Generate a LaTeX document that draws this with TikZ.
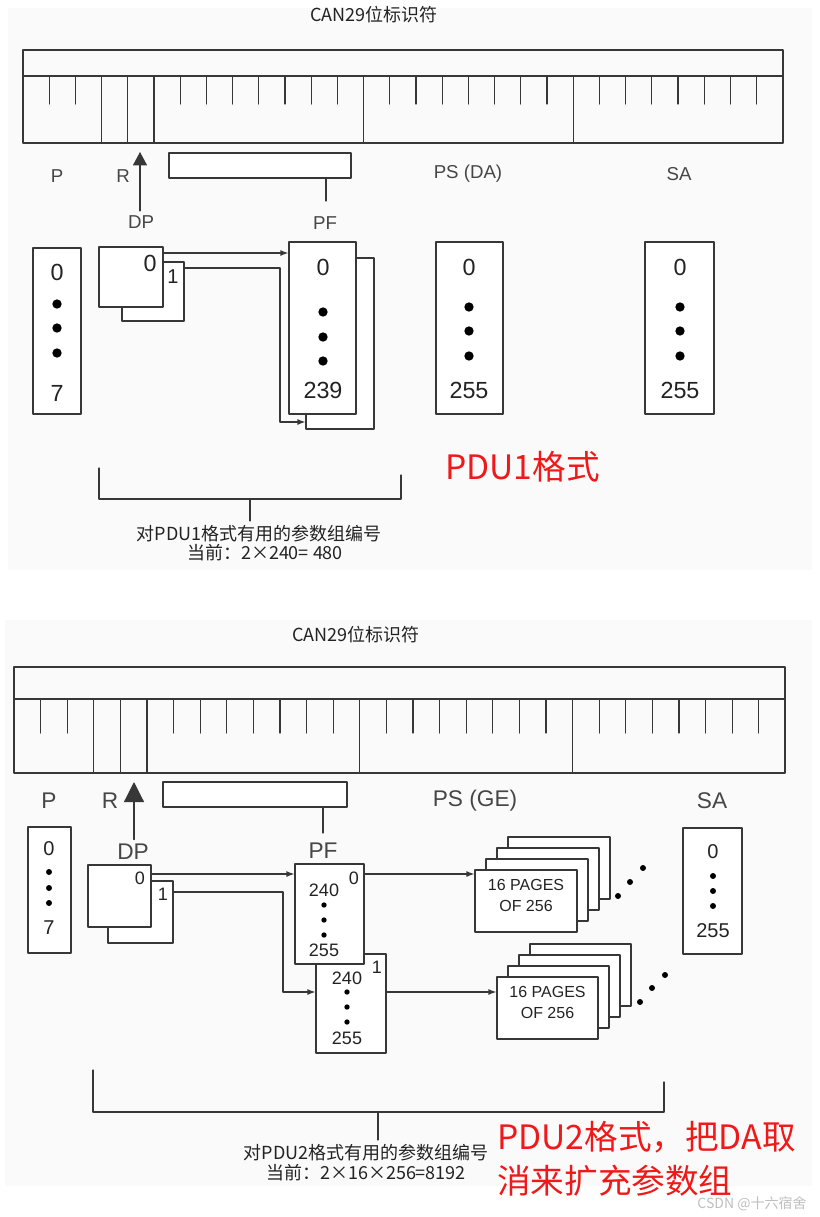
\documentclass[tikz,border=0pt]{standalone}
\usepackage{fontspec}
\setmainfont{Liberation Sans}
\newfontfamily\cjk{Noto Sans CJK SC}
\usetikzlibrary{arrows.meta,fit}
\definecolor{linegray}{RGB}{55,55,55}
\definecolor{labgray}{RGB}{70,70,70}
\definecolor{numgray}{RGB}{35,35,35}
\definecolor{pdured}{RGB}{240,25,25}
\definecolor{panelbg}{RGB}{250,250,250}
\definecolor{markgray}{RGB}{190,190,190}
\tikzset{
    redlab/.style={
        text=pdured, inner sep=0pt, font=\cjk\fontsize{25.2}{33}\selectfont
    }
}

\begin{document}
\begin{tikzpicture}[x=0.75pt,y=-0.75pt, line cap=round, line join=round]

\tikzset{
  main/.style={draw=linegray, line width=0.9pt},
  reg/.style={draw=linegray, line width=0.8pt},
  box/.style={draw=linegray, line width=0.9pt, fill=white, inner sep=0pt},
  arr/.style={main, -{Latex[length=6pt,width=4.5pt]}},
  lab/.style={text=labgray, font=\fontsize{14}{16}\selectfont},
  labb/.style={text=labgray, font=\fontsize{17}{19}\selectfont},
  num/.style={text=numgray, inner sep=0pt, font=\fontsize{17.5}{19}\selectfont},
  numb/.style={text=numgray, inner sep=0pt, font=\fontsize{15}{17}\selectfont},
  nums/.style={text=numgray, inner sep=0pt, font=\fontsize{13.5}{15}\selectfont},
  bigdot/.style={circle, fill=black, inner sep=0pt, minimum size=7pt},
  smalldot/.style={circle, fill=black, inner sep=0pt, minimum size=4pt},
  title/.style={text=numgray, font=\cjk\fontsize{13.5}{16}\selectfont},
  note/.style={text=numgray, font=\cjk\fontsize{13.5}{15}\selectfont},
  pages/.style={box, align=center, text=numgray, font=\fontsize{12}{15.75}\selectfont},
}

\useasboundingbox (0,0) rectangle (819,1217);

% panels
\fill[panelbg] (8,8) rectangle (812,570);
\fill[panelbg] (5,620) rectangle (812,1186);

%%%%%%%% PDU1 %%%%%%%%
\node[title] (tit1) at (374,15) {CAN29位标识符};

% 29 bit register
\draw[reg] (23,50) rectangle (783,143);
\draw[reg] (23,76) -- (783,76);
\foreach \i in {3,4,5,13,21}
  \draw[reg] ({23+26.2*\i},76) -- ({23+26.2*\i},143);
\foreach \i in {1,2,6,7,...,12,14,15,...,20,22,23,...,28}
  \draw[reg] ({23+26.2*\i},76) -- ({23+26.2*\i},104);

% field labels
\node[lab] (p1) at (57,176) {P};
\node[lab] (r1) at (123,176) {R};
\node[lab] (ps1) at (468,174) {PS (DA)};
\node[lab] (sa1) at (679,174) {SA};
\node[lab] (dp1) at (141,222) {DP};
\node[lab] (pf1) at (325,223) {PF};

\coordinate (dptip1) at (140,152);
\draw[main, -{Triangle[length=10pt,width=10.5pt]}] (dp1.north -| dptip1) -- (dptip1);

\node[box, fit={(169,153) (351,178)}] (pfbar1) {};
\coordinate (pfstem1) at (326,201);
\draw[main] (pfbar1.south -| pfstem1) -- (pfstem1);

% P
\node[box, fit={(33,248) (81,414)}] (pbox1) {};
\node[num] (p1top) at (57,272) {0};
\foreach \y [count=\k] in {304,328,353}
  \node[bigdot] (p1dot\k) at (57,\y) {};
\node[num] (p1bot) at (57,393) {7};

% DP
\node[box, fit={(122,262) (184,321)}] (dpb1) {};
\node[box, fit={(99,247) (163,307)}] (dpa1) {};
\node[num] (dpa1n) at (150,263) {0};
\node[numb] (dpb1n) at (173,277) {1};

% PF
\node[box, fit={(306,258) (374,429)}] (pfb1) {};
\node[box, fit={(289,242) (356,414)}] (pfa1) {};
\node[num] (pf1top) at (323,267) {0};
\foreach \y [count=\k] in {312,337,361}
  \node[bigdot] (pf1dot\k) at (323,\y) {};
\node[num] (pf1bot) at (323,390) {239};

% DP -> PF
\coordinate (dpo1) at (163,253);
\draw[arr] (dpo1) -- (dpo1 -| pfa1.west);
\coordinate (dpo1b) at (184,268);
\coordinate (bend1) at (280,422);
\draw[arr] (dpo1b) -| (bend1) -- (bend1 -| pfb1.west);

% PS
\node[box, fit={(436,242) (503,414)}] (psbox1) {};
\node[num] (ps1top) at (469,267) {0};
\foreach \y [count=\k] in {307,331,356}
  \node[bigdot] (ps1dot\k) at (469,\y) {};
\node[num] (ps1bot) at (469,390) {255};

% SA
\node[box, fit={(645,242) (714,414)}] (sabox1) {};
\node[num] (sa1top) at (680,267) {0};
\foreach \y [count=\k] in {307,331,356}
  \node[bigdot] (sa1dot\k) at (680,\y) {};
\node[num] (sa1bot) at (680,390) {255};

% bracket
\coordinate (brl1) at (99,468);
\coordinate (brr1) at (401,475);
\coordinate (brm1) at (250,499);
\draw[main] (brl1) |- (brm1) -| (brr1);
\node[note] (note1) at (259,534) {对PDU1格式有用的参数组编号};
\node[note] (note1b) at (265,553) {当前：2×240= 480};
\draw[main] (brm1) -- (brm1 |- note1.north);

\node[redlab, anchor=west] (pdu1) at (445,467) {PDU1格式};

%%%%%%%% PDU2 %%%%%%%%
\node[title] (tit2) at (356,635) {CAN29位标识符};

% 29 bit register
\draw[reg] (14,667) rectangle (785,773);
\draw[reg] (14,699) -- (785,699);
\foreach \i in {3,4,5,13,21}
  \draw[reg] ({14+26.6*\i},699) -- ({14+26.6*\i},773);
\foreach \i in {1,2,6,7,...,12,14,15,...,20,22,23,...,28}
  \draw[reg] ({14+26.6*\i},699) -- ({14+26.6*\i},733);

% field labels
\node[labb] (p2) at (49,801) {P};
\node[labb] (r2) at (110,801) {R};
\node[labb] (ps2) at (475,801) {PS (GE)};
\node[labb] (sa2) at (712,801) {SA};
\node[labb] (dp2) at (133,852) {DP};
\node[labb] (pf2) at (323,851) {PF};

\coordinate (dptip2) at (134,782);
\draw[main, -{Triangle[length=15pt,width=15pt]}] (dp2.north -| dptip2) -- (dptip2);

\node[box, fit={(163,782) (347,807)}] (pfbar2) {};
\coordinate (pfstem2) at (323,833);
\draw[main] (pfbar2.south -| pfstem2) -- (pfstem2);

% P
\node[box, fit={(28,827) (71,953)}] (pbox2) {};
\node[numb] (p2top) at (49,849) {0};
\foreach \y [count=\k] in {872,888,903}
  \node[smalldot, minimum size=4.5pt] (p2dot\k) at (49,\y) {};
\node[numb] (p2bot) at (49,928) {7};

% DP
\node[box, fit={(108,881) (173,943)}] (dpb2) {};
\node[box, fit={(88,865) (151,927)}] (dpa2) {};
\node[nums] (dpa2n) at (140,878) {0};
\node[nums] (dpb2n) at (163,894) {1};

% PF
\node[box, fit={(316,954) (386,1053)}] (pfb2) {};
\node[nums] (pfb2n) at (377,967) {1};
\node[nums] (pfb2top) at (347,978) {240};
\foreach \y [count=\k] in {992,1007,1022}
  \node[smalldot] (pfb2dot\k) at (347,\y) {};
\node[nums] (pfb2bot) at (347,1038) {255};
\node[box, fit={(295,864) (364,964)}] (pfa2) {};
\node[nums] (pfa2n) at (354,878) {0};
\node[nums] (pfa2top) at (324,890) {240};
\foreach \y [count=\k] in {905,920,935}
  \node[smalldot] (pfa2dot\k) at (324,\y) {};
\node[nums] (pfa2bot) at (324,950) {255};

% DP -> PF
\coordinate (dpo2) at (151,874);
\draw[arr] (dpo2) -- (dpo2 -| pfa2.west);
\coordinate (dpo2b) at (173,892);
\coordinate (bend2) at (283,992);
\draw[arr] (dpo2b) -| (bend2) -- (bend2 -| pfb2.west);

% 16 pages
\foreach \k in {3,2,1}
  \node[box, fit={({475+11*\k},{870-11*\k}) ({577+11*\k},{932-11*\k})}] (pga\k) {};
\node[pages, fit={(475,870) (577,932)}] (pga0) {16 PAGES\\OF 256};
\foreach \x/\y [count=\k] in {618/896,630/882,643/868}
  \node[smalldot, minimum size=4.5pt] (pgadot\k) at (\x,\y) {};

\foreach \k in {3,2,1}
  \node[box, fit={({497+11*\k},{977-11*\k}) ({598+11*\k},{1039-11*\k})}] (pgb\k) {};
\node[pages, fit={(497,977) (598,1039)}] (pgb0) {16 PAGES\\OF 256};
\foreach \x/\y [count=\k] in {640/1002,652/988,665/975}
  \node[smalldot, minimum size=4.5pt] (pgbdot\k) at (\x,\y) {};

% PF -> pages
\coordinate (pfo2) at (364,874);
\draw[arr] (pfo2) -- (pfo2 -| pga0.west);
\coordinate (pfo2b) at (386,992);
\draw[arr] (pfo2b) -- (pfo2b -| pgb0.west);

% SA
\node[box, fit={(683,828) (742,954)}] (sabox2) {};
\node[numb] (sa2top) at (713,852) {0};
\foreach \y [count=\k] in {876,891,906}
  \node[smalldot, minimum size=4.5pt] (sa2dot\k) at (713,\y) {};
\node[numb] (sa2bot) at (713,931) {255};

% bracket
\coordinate (brl2) at (93,1070);
\coordinate (brr2) at (664,1082);
\coordinate (brm2) at (378,1112);
\draw[main] (brl2) |- (brm2) -| (brr2);
\node[note] (note2) at (366,1153) {对PDU2格式有用的参数组编号};
\node[note] (note2b) at (366,1173) {当前：2×16×256=8192};
\draw[main] (brm2) -- (brm2 |- note2.north);

\node[redlab, anchor=west, align=left] (pdu2) at (497,1159) {PDU2格式，把DA取\\消来扩充参数组};

\node[text=markgray, font=\cjk\fontsize{10.5}{12}\selectfont] (mark) at (752,1204) {CSDN @十六宿舍};

\end{tikzpicture}
\end{document}
